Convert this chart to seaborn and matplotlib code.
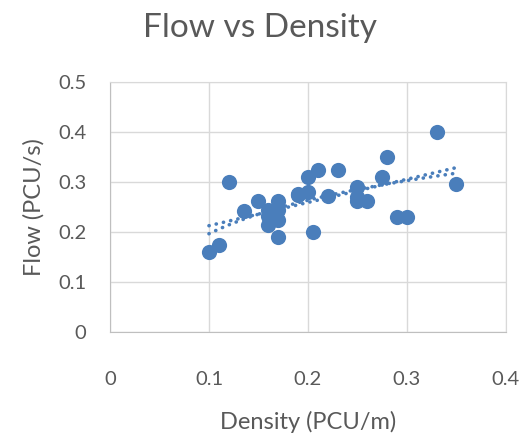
import numpy as np
import pandas as pd
import matplotlib
matplotlib.use("Agg")
import matplotlib.pyplot as plt
import seaborn as sns

# data
density = [0.10, 0.11, 0.12, 0.135, 0.15, 0.16, 0.16, 0.16, 0.165, 0.17,
           0.17, 0.17, 0.17, 0.19, 0.19, 0.20, 0.20, 0.205, 0.21, 0.22,
           0.23, 0.25, 0.25, 0.25, 0.26, 0.275, 0.28, 0.29, 0.30, 0.33, 0.35]
flow = [0.16, 0.175, 0.30, 0.242, 0.262, 0.245, 0.232, 0.215, 0.23, 0.262,
        0.245, 0.225, 0.19, 0.277, 0.275, 0.28, 0.31, 0.20, 0.325, 0.272,
        0.325, 0.29, 0.27, 0.262, 0.262, 0.31, 0.35, 0.231, 0.231, 0.40, 0.296]
df = pd.DataFrame({"density": density, "flow": flow})

blue = "#4a7ebb"
grey = "#595959"

sns.set_style("white")
plt.rcParams["font.family"] = ["Lato", "DejaVu Sans"]

fig = plt.figure(figsize=(5.2, 4.37), dpi=100)
ax = fig.add_axes([0.2115, 0.2395, 0.7615, 0.5725])

sns.scatterplot(data=df, x="density", y="flow", s=120, color=blue,
                edgecolor=blue, linewidth=0, ax=ax, zorder=3)
# trendlines: linear and logarithmic
dots = dict(color=blue, lw=2.6, ls=(0, (0.05, 2.0)), dash_capstyle="round")
sns.regplot(data=df, x="density", y="flow", scatter=False, ci=None, ax=ax,
            line_kws=dots)
sns.regplot(data=df, x="density", y="flow", scatter=False, ci=None, ax=ax,
            logx=True, truncate=True, line_kws=dots)

ax.set_xlim(0, 0.4)
ax.set_ylim(0, 0.5)
ax.set_xticks([0, 0.1, 0.2, 0.3, 0.4])
ax.set_xticklabels(["0", "0.1", "0.2", "0.3", "0.4"])
ax.set_yticks([0, 0.1, 0.2, 0.3, 0.4, 0.5])
ax.set_yticklabels(["0", "0.1", "0.2", "0.3", "0.4", "0.5"])
ax.grid(True, color="#d9d9d9", lw=1)
ax.set_axisbelow(True)
for s in ax.spines.values():
    s.set_color("#d9d9d9")
ax.spines["left"].set_color("#bfbfbf")
ax.spines["bottom"].set_color("#bfbfbf")
ax.tick_params(length=0, labelsize=14.5, labelcolor=grey)
ax.tick_params(axis="x", pad=28)
ax.tick_params(axis="y", pad=17)

ax.set_xlabel("Density (PCU/m)", fontsize=17, color=grey, labelpad=16)
ax.set_ylabel("Flow (PCU/s)", fontsize=17, color=grey, labelpad=10)
fig.text(0.5, 0.935, "Flow vs Density", ha="center", va="center",
         fontsize=24, color=grey)

fig.savefig("out.png", dpi=100)
